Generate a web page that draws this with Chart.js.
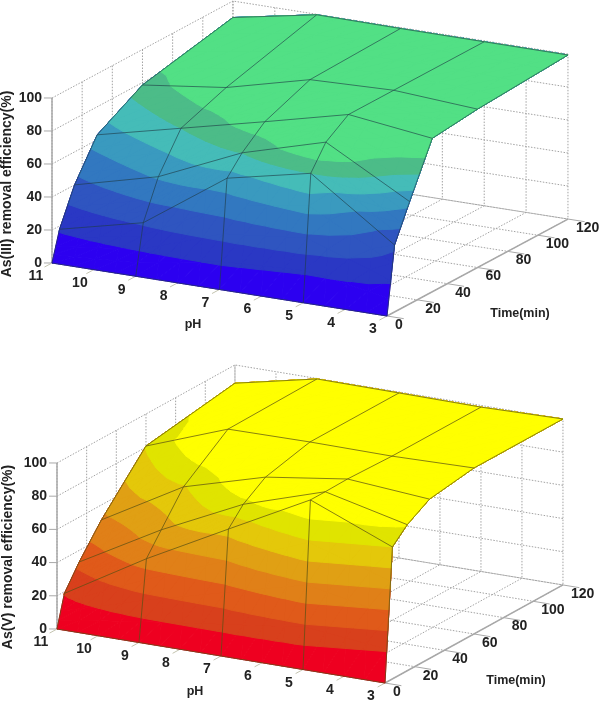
<!DOCTYPE html>
<html>
<head>
<meta charset="utf-8">
<title>As removal surfaces</title>
<script src="https://cdn.jsdelivr.net/npm/chart.js@4"></script>
<style>
  html, body { margin: 0; padding: 0; background: #fff; }
  canvas { display: block; position: absolute; left: 0; }
  #graficoIII { top: 0; }
  #graficoV { top: 352px; }
</style>
</head>
<body>
<canvas id="graficoIII" width="600" height="352"></canvas>
<canvas id="graficoV" width="600" height="351"></canvas>
<script>
// mesh nodes
const phGrid = [11, 9, 7, 5, 3];
const timeGrid = [0, 5, 15, 30, 60, 120];

// tick labels
const phTicks = [11, 10, 9, 8, 7, 6, 5, 4, 3];
const timeTicks = [0, 20, 40, 60, 80, 100, 120];
const effTicks = [0, 20, 40, 60, 80, 100];

// efficiency(%), one row per pH, one column per time
const removalIII = [
  [0, 18, 40, 63, 78.5, 90],
  [0, 30, 53, 75, 85, 99.7],
  [0, 65, 75.5, 87, 97.8, 99.4],
  [0, 76, 90, 99.4, 99.4, 99.4],
  [0, 40.6, 62, 93, 96, 99.4],
];
const removalV = [
  [0, 19, 33, 51, 80.7, 89],
  [0, 48, 60.5, 79, 99, 99.7],
  [0, 74, 84, 93, 99.4, 99.4],
  [0, 99.7, 99.7, 100, 99, 99],
  [0, 79.5, 88, 96, 100, 100],
];

// colour position on the surface (bands), the colours do not follow the mesh exactly
const bandsIII = [
  [0, 1.1, 2.7, 4.5, 6.5, 9],
  [0, 2.1, 4.1, 6, 8, 9],
  [0, 4.6, 6, 7.7, 9, 9],
  [-0.4, 6, 8.3, 9, 9, 9],
  [0, 2.2, 4.3, 8.2, 9, 9],
];
const bandsV = [
  [0, 1.05, 2.25, 3.8, 6.05, 8],
  [0, 3.4, 4.6, 5.9, 8.8, 9],
  [0, 5.3, 6.7, 8.3, 9, 9],
  [-0.15, 7.9, 9, 9, 9, 9],
  [-0.5, 6, 7.1, 8.5, 9, 9],
];

const coresIII = ["#2c00f0", "#2a38c4", "#2f55c0", "#3278c0", "#3a9abf", "#45bcb8", "#4cbc88", "#52e085"];
const coresV = ["#ee0020", "#d8401c", "#e05a1a", "#e08018", "#e0a014", "#e4c80a", "#e0e400", "#ffff00"];

const SUBDIV = 4; // pieces per mesh cell for the colour bands

function project(view, ph, t, z) {
  return {
    x: view.x0 + (11 - ph) * view.phX + t * view.tX,
    y: view.y0 + (11 - ph) * view.phY - t * view.tY - z * view.zY,
  };
}

function linha(view, pts, cor, largura, traco) {
  return {
    data: pts.map((p) => project(view, p[0], p[1], p[2])),
    showLine: true,
    borderColor: cor,
    borderWidth: largura,
    borderDash: traco || [],
    pointRadius: 0,
    fill: false,
    tension: 0,
  };
}

// keeps the part of a triangle that is above one band
function clipBand(tri, nivel) {
  const out = [];
  for (let i = 0; i < tri.length; i++) {
    const a = tri[i];
    const b = tri[(i + 1) % tri.length];
    if (a.k >= nivel) out.push(a);
    if ((a.k >= nivel) !== (b.k >= nivel)) {
      const f = (nivel - a.k) / (b.k - a.k);
      out.push({
        ph: a.ph + (b.ph - a.ph) * f,
        t: a.t + (b.t - a.t) * f,
        z: a.z + (b.z - a.z) * f,
        k: nivel,
      });
    }
  }
  return out;
}

function gridDatasets(view) {
  const cinza = "#a2a2a2";
  const ponto = [1.5, 1.5];
  const ds = [];
  effTicks.forEach((z) => {
    ds.push(linha(view, [[11, 0, z], [11, 120, z], [3, 120, z]], cinza, 1, ponto));
  });
  timeTicks.forEach((t) => {
    ds.push(linha(view, [[11, t, 100], [11, t, 0], [3, t, 0]], cinza, 1, ponto));
  });
  phTicks.forEach((ph) => {
    ds.push(linha(view, [[ph, 0, 0], [ph, 120, 0], [ph, 120, 100]], cinza, 1, ponto));
  });
  return ds;
}

function surfaceDatasets(view, removal, bands, cores, corMalha) {
  const ds = [];
  // point inside a mesh cell, bilinear between its four nodes
  const cellPoint = (i, j, u, v) => {
    const mix = (m) =>
      (m[i][j] * (1 - u) + m[i + 1][j] * u) * (1 - v) +
      (m[i][j + 1] * (1 - u) + m[i + 1][j + 1] * u) * v;
    return {
      ph: phGrid[i] + (phGrid[i + 1] - phGrid[i]) * u,
      t: timeGrid[j] + (timeGrid[j + 1] - timeGrid[j]) * v,
      z: mix(removal),
      k: mix(bands),
    };
  };
  const tris = [];
  for (let j = timeGrid.length - 2; j >= 0; j--) {
    for (let i = 0; i < phGrid.length - 1; i++) {
      for (let a = 0; a < SUBDIV; a++) {
        for (let b = 0; b < SUBDIV; b++) {
          const u0 = a / SUBDIV, u1 = (a + 1) / SUBDIV;
          const v0 = b / SUBDIV, v1 = (b + 1) / SUBDIV;
          const p00 = cellPoint(i, j, u0, v0);
          const p10 = cellPoint(i, j, u1, v0);
          const p11 = cellPoint(i, j, u1, v1);
          const p01 = cellPoint(i, j, u0, v1);
          tris.push([p00, p10, p11]);
          tris.push([p00, p11, p01]);
        }
      }
    }
  }
  cores.forEach((cor, b) => {
    tris.forEach((tri) => {
      const poly = b === 0 ? tri : clipBand(tri, b);
      if (poly.length < 3) return;
      const pts = poly.concat([poly[0]]).map((p) => [p.ph, p.t, p.z]);
      const d = linha(view, pts, cor, 1);
      d.fill = "shape";
      d.backgroundColor = cor;
      ds.push(d);
    });
  });
  // mesh on top of the colours
  phGrid.forEach((ph, i) => {
    ds.push(linha(view, timeGrid.map((t, j) => [ph, t, removal[i][j]]), corMalha, 1));
  });
  timeGrid.forEach((t, j) => {
    ds.push(linha(view, phGrid.map((ph, i) => [ph, t, removal[i][j]]), corMalha, 1));
  });
  return ds;
}

function axisDatasets(view) {
  const eixo = "#a8a8a8";
  const ds = [];
  ds.push(linha(view, [[11, 0, 0], [11, 0, 100]], eixo, 1.5));
  ds.push(linha(view, [[3, 0, 0], [3, 120, 0]], eixo, 1.5));
  effTicks.forEach((z) => {
    ds.push(linha(view, [[11, 0, z], [11.15, -1.2, z]], eixo, 1));
  });
  timeTicks.forEach((t) => {
    ds.push(linha(view, [[3, t, 0], [2.6, t, 0]], eixo, 1));
  });
  phTicks.forEach((ph) => {
    ds.push(linha(view, [[ph, 0, 0], [ph, -5, 0]], "#c4c4b0", 1));
  });
  return ds;
}

function textPlugin(view, zTitulo, zCentro, phPos, timePos) {
  return {
    id: "textos3d",
    afterDraw(chart) {
      const ctx = chart.ctx;
      const sx = chart.scales.x;
      const sy = chart.scales.y;
      const px = (p) => ({ x: sx.getPixelForValue(p.x), y: sy.getPixelForValue(p.y) });
      ctx.save();
      ctx.fillStyle = "#222";
      ctx.font = "bold 14px 'Liberation Sans'";
      ctx.textBaseline = "middle";

      ctx.textAlign = "center";
      phTicks.forEach((ph) => {
        const p = px(project(view, ph, 0, 0));
        ctx.fillText(String(ph), p.x - (ph === 11 ? 16 : 14), p.y + 13.5);
      });
      ctx.textAlign = "left";
      timeTicks.forEach((t) => {
        const p = px(project(view, 3, t, 0));
        ctx.fillText(String(t), p.x + 8, p.y + 9);
      });
      ctx.textAlign = "right";
      effTicks.forEach((z) => {
        const p = px(project(view, 11, 0, z));
        ctx.fillText(String(z), p.x - 10, p.y);
      });

      ctx.textAlign = "center";
      ctx.font = "bold 12.5px 'Liberation Sans'";
      ctx.fillText("pH", phPos[0], phPos[1]);
      ctx.fillText("Time(min)", timePos[0], timePos[1]);

      ctx.font = "bold 14px 'Liberation Sans'";
      ctx.translate(zCentro[0], zCentro[1]);
      ctx.rotate(-Math.PI / 2);
      ctx.fillText(zTitulo, 0, 0);
      ctx.restore();
    },
  };
}

function criarGrafico(id, view, removal, bands, cores, corMalha, plugin) {
  const canvas = document.getElementById(id);
  // painter order, Chart.js draws the first dataset last
  const datasets = gridDatasets(view)
    .concat(axisDatasets(view))
    .concat(surfaceDatasets(view, removal, bands, cores, corMalha))
    .reverse();
  return new Chart(canvas.getContext("2d"), {
    type: "scatter",
    data: { datasets: datasets },
    options: {
      responsive: false,
      animation: false,
      layout: { padding: 0 },
      plugins: { legend: { display: false }, tooltip: { enabled: false } },
      scales: {
        x: { type: "linear", display: false, min: 0, max: canvas.width },
        y: { type: "linear", display: false, min: 0, max: canvas.height, reverse: true },
      },
    },
    plugins: [plugin],
  });
}

const viewIII = { x0: 52, y0: 263, phX: 41.875, phY: 6.625, tX: 1.508, tY: 0.808, zY: 1.65 };
const viewV = { x0: 57, y0: 277, phX: 41, phY: 6.75, tX: 1.483, tY: 0.817, zY: 1.66 };

criarGrafico("graficoIII", viewIII, removalIII, bandsIII, coresIII, "rgba(30,60,70,0.62)",
  textPlugin(viewIII, "As(III) removal efficiency(%)", [7, 184], [193, 325], [520, 314]));
criarGrafico("graficoV", viewV, removalV, bandsV, coresV, "rgba(90,80,20,0.72)",
  textPlugin(viewV, "As(V) removal efficiency(%)", [8, 205], [195, 340], [516, 329]));
</script>
</body>
</html>
